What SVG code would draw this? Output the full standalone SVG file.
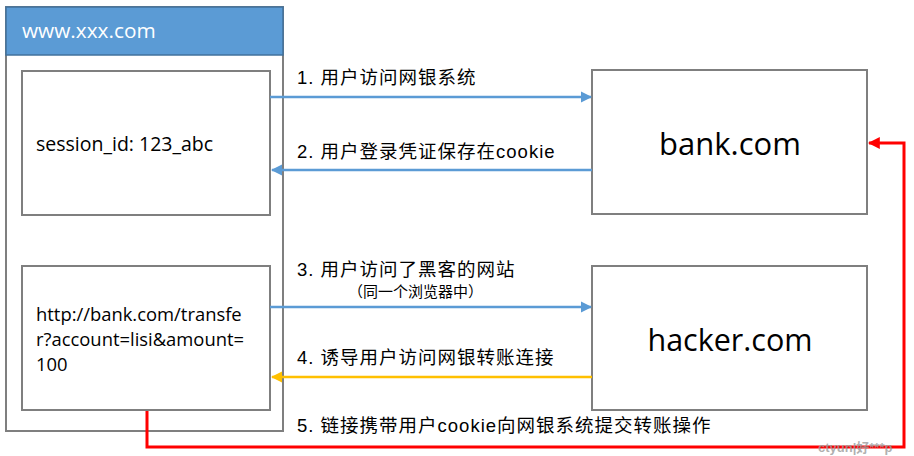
<svg xmlns="http://www.w3.org/2000/svg" width="914" height="456" viewBox="0 0 914 456">
<style>
.box{fill:#fff;stroke:#7f7f7f;stroke-width:2}
.lat{font-family:"Open Sans","Liberation Sans",sans-serif;fill:#000}
.lbl{font-family:"Liberation Sans","Noto Sans CJK SC",sans-serif;font-size:18.5px;letter-spacing:1px;fill:#000}
.blue{stroke:#5B9BD5;stroke-width:2.5;fill:none}
</style>
<defs>
<marker id="ab" viewBox="0 0 10 10" refX="9" refY="5" markerWidth="4.5" markerHeight="4.5" orient="auto" markerUnits="strokeWidth"><path d="M0,0 L10,5 L0,10 z" fill="#5B9BD5"/></marker>
<marker id="ao" viewBox="0 0 10 10" refX="9" refY="5" markerWidth="4.5" markerHeight="4.5" orient="auto" markerUnits="strokeWidth"><path d="M0,0 L10,5 L0,10 z" fill="#FFC000"/></marker>
<marker id="ar" viewBox="0 0 10 10" refX="9" refY="5" markerWidth="4" markerHeight="4" orient="auto" markerUnits="strokeWidth"><path d="M0,0 L10,5 L0,10 z" fill="#FF0000"/></marker>
</defs>
<rect width="914" height="456" fill="#fff"/>
<g id="browser">
<rect x="6" y="7" width="277" height="424" class="box"/>
<rect x="6" y="7" width="277" height="48" fill="#5B9BD5" stroke="#41719C" stroke-width="1.5"/>
<text x="22" y="38" class="lat" style="font-size:20.8px;fill:#fff">www.xxx.com</text>
</g>
<g id="session">
<rect x="22" y="71" width="248" height="144" class="box"/>
<text x="36" y="151" class="lat" style="font-size:19.5px">session_id: 123_abc</text>
</g>
<g id="link">
<rect x="22" y="266" width="248" height="144" class="box"/>
<text class="lat" style="font-size:18.4px"><tspan x="36" y="321">http://bank.com/transfe</tspan><tspan x="36" y="346">r?account=lisi&amp;amount=</tspan><tspan x="36" y="371">100</tspan></text>
</g>
<g id="bank">
<rect x="592" y="70" width="275" height="144" class="box"/>
<text x="730" y="155" text-anchor="middle" class="lat" style="font-size:31px">bank.com</text>
</g>
<g id="hacker">
<rect x="592" y="266" width="275" height="144" class="box"/>
<text x="730" y="351" text-anchor="middle" class="lat" style="font-size:30.5px">hacker.com</text>
</g>
<g id="connectors">
<line x1="270" y1="97" x2="591" y2="97" class="blue" marker-end="url(#ab)"/>
<line x1="592" y1="170" x2="272" y2="170" class="blue" marker-end="url(#ab)"/>
<line x1="270" y1="307" x2="591" y2="307" class="blue" marker-end="url(#ab)"/>
<line x1="592" y1="377" x2="272" y2="377" style="stroke:#FFC000;stroke-width:2.5" marker-end="url(#ao)"/>
<path d="M147,411 V447 H904 V143 H869" fill="none" stroke="#FF0000" stroke-width="3" marker-end="url(#ar)"/>
<text x="297" y="84" class="lbl">1. 用户访问网银系统</text>
<text x="297" y="158" class="lbl">2. 用户登录凭证保存在cookie</text>
<text x="297" y="276" class="lbl">3. 用户访问了黑客的网站</text>
<text x="348" y="297" class="lbl" style="font-size:15px;letter-spacing:0">（同一个浏览器中）</text>
<text x="297" y="364" class="lbl">4. 诱导用户访问网银转账连接</text>
<text x="297" y="432" class="lbl">5. 链接携带用户cookie向网银系统提交转账操作</text>
</g>
<text x="818" y="452" style="font-family:'Liberation Sans','Noto Sans CJK SC',sans-serif;font-size:13px;font-weight:bold;fill:#9a9a9a;fill-opacity:0.8">ctyun|好***p</text>
</svg>
